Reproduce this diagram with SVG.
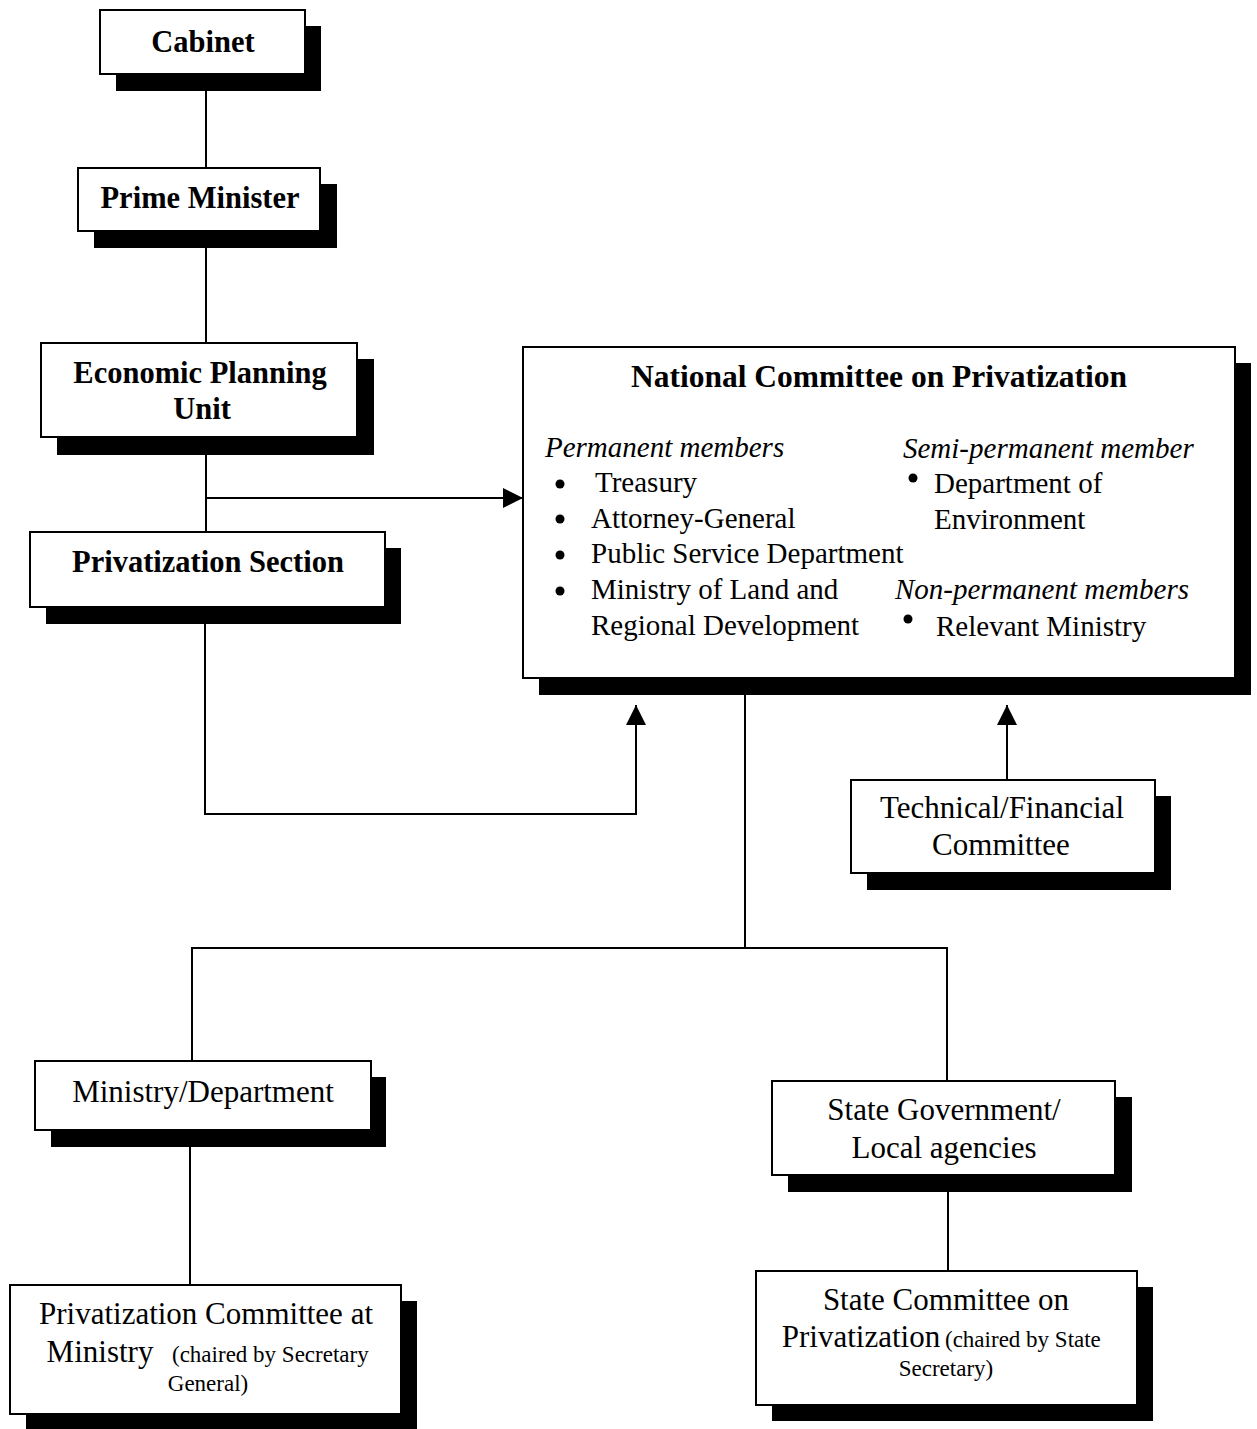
<svg xmlns="http://www.w3.org/2000/svg" width="1257" height="1429" viewBox="0 0 1257 1429">
<style>
.box{fill:#fff;stroke:#000;stroke-width:2}
.sh{fill:#000}
.ln{fill:none;stroke:#000;stroke-width:2}
.b{font-family:"Liberation Serif","Times New Roman",serif;font-weight:bold;font-size:30.5px;fill:#000;text-anchor:middle}
.t{font-size:31.5px}
.r{font-family:"Liberation Serif","Times New Roman",serif;font-size:31px;fill:#000;text-anchor:middle}
.s{font-family:"Liberation Serif","Times New Roman",serif;font-size:23px;fill:#000}
.m{font-family:"Liberation Serif","Times New Roman",serif;font-size:29px;fill:#000}
.i{font-style:italic}
</style>
<defs>
<marker id="arr" viewBox="0 0 20 20" refX="20" refY="10" markerWidth="20" markerHeight="20" markerUnits="userSpaceOnUse" orient="auto">
<path d="M0,0 L20,10 L0,20 Z" fill="#000"/>
</marker>
</defs>
<rect width="1257" height="1429" fill="#fff"/>
<g id="connectors">
<line class="ln" x1="206" y1="74" x2="206" y2="168"/>
<line class="ln" x1="206" y1="248" x2="206" y2="343"/>
<line class="ln" x1="206" y1="455" x2="206" y2="532"/>
<line class="ln" x1="206" y1="498" x2="523" y2="498" marker-end="url(#arr)"/>
<polyline class="ln" points="205,624 205,814 636,814 636,705" marker-end="url(#arr)"/>
<line class="ln" x1="1007" y1="780" x2="1007" y2="705" marker-end="url(#arr)"/>
<line class="ln" x1="745" y1="695" x2="745" y2="948"/>
<polyline class="ln" points="192,1061 192,948 947,948 947,1081"/>
<line class="ln" x1="190" y1="1147" x2="190" y2="1285"/>
<line class="ln" x1="948" y1="1192" x2="948" y2="1271"/>
</g>
<g id="cabinet">
<rect class="sh" x="116" y="26" width="205" height="65"/>
<rect class="box" x="100" y="10" width="205" height="64"/>
<text class="b" x="203" y="52">Cabinet</text>
</g>
<g id="prime-minister">
<rect class="sh" x="94" y="184" width="243" height="64"/>
<rect class="box" x="78" y="168" width="242" height="63"/>
<text class="b" x="200" y="208">Prime Minister</text>
</g>
<g id="epu">
<rect class="sh" x="57" y="359" width="317" height="96"/>
<rect class="box" x="41" y="343" width="316" height="94"/>
<text class="b" x="200" y="383">Economic Planning</text>
<text class="b" x="202" y="419">Unit</text>
</g>
<g id="privatization-section">
<rect class="sh" x="46" y="548" width="355" height="76"/>
<rect class="box" x="30" y="532" width="355" height="75"/>
<text class="b" x="208" y="572">Privatization Section</text>
</g>
<g id="ncp">
<rect class="sh" x="539" y="363" width="712" height="332"/>
<rect class="box" x="523" y="347" width="712" height="331"/>
<text class="b t" x="879" y="387">National Committee on Privatization</text>
<text class="m i" x="545" y="457">Permanent members</text>
<circle cx="560" cy="484" r="4.5"/>
<text class="m" x="595" y="492">Treasury</text>
<circle cx="560" cy="519" r="4.5"/>
<text class="m" x="591" y="528">Attorney-General</text>
<circle cx="560" cy="555" r="4.5"/>
<text class="m" x="591" y="563">Public Service Department</text>
<circle cx="560" cy="591" r="4.5"/>
<text class="m" x="591" y="599">Ministry of Land and</text>
<text class="m" x="591" y="635">Regional Development</text>
<text class="m i" x="903" y="458">Semi-permanent member</text>
<circle cx="913" cy="478" r="4.5"/>
<text class="m" x="934" y="493">Department of</text>
<text class="m" x="934" y="529">Environment</text>
<text class="m i" x="895" y="599">Non-permanent members</text>
<circle cx="908" cy="619" r="4.5"/>
<text class="m" x="936" y="636">Relevant Ministry</text>
</g>
<g id="technical-financial">
<rect class="sh" x="867" y="796" width="304" height="94"/>
<rect class="box" x="851" y="780" width="304" height="93"/>
<text class="r" x="1002" y="818">Technical/Financial</text>
<text class="r" x="1001" y="855">Committee</text>
</g>
<g id="ministry-department">
<rect class="sh" x="51" y="1077" width="335" height="70"/>
<rect class="box" x="35" y="1061" width="336" height="69"/>
<text class="r" x="203" y="1102">Ministry/Department</text>
</g>
<g id="state-government">
<rect class="sh" x="788" y="1097" width="344" height="95"/>
<rect class="box" x="772" y="1081" width="343" height="94"/>
<text class="r" x="944" y="1120">State Government/</text>
<text class="r" x="944" y="1158">Local agencies</text>
</g>
<g id="pc-ministry">
<rect class="sh" x="26" y="1301" width="391" height="128"/>
<rect class="box" x="10" y="1285" width="391" height="129"/>
<text class="r" x="206" y="1324">Privatization Committee at</text>
<text class="r" x="100" y="1362">Ministry</text>
<text class="s" x="172" y="1362">(chaired by Secretary</text>
<text class="s" x="208" y="1391" text-anchor="middle">General)</text>
</g>
<g id="state-committee">
<rect class="sh" x="772" y="1287" width="381" height="134"/>
<rect class="box" x="756" y="1271" width="381" height="134"/>
<text class="r" x="946" y="1310">State Committee on</text>
<text class="r" x="861" y="1347">Privatization</text>
<text class="s" x="945" y="1347">(chaired by State</text>
<text class="s" x="946" y="1376" text-anchor="middle">Secretary)</text>
</g>
</svg>
